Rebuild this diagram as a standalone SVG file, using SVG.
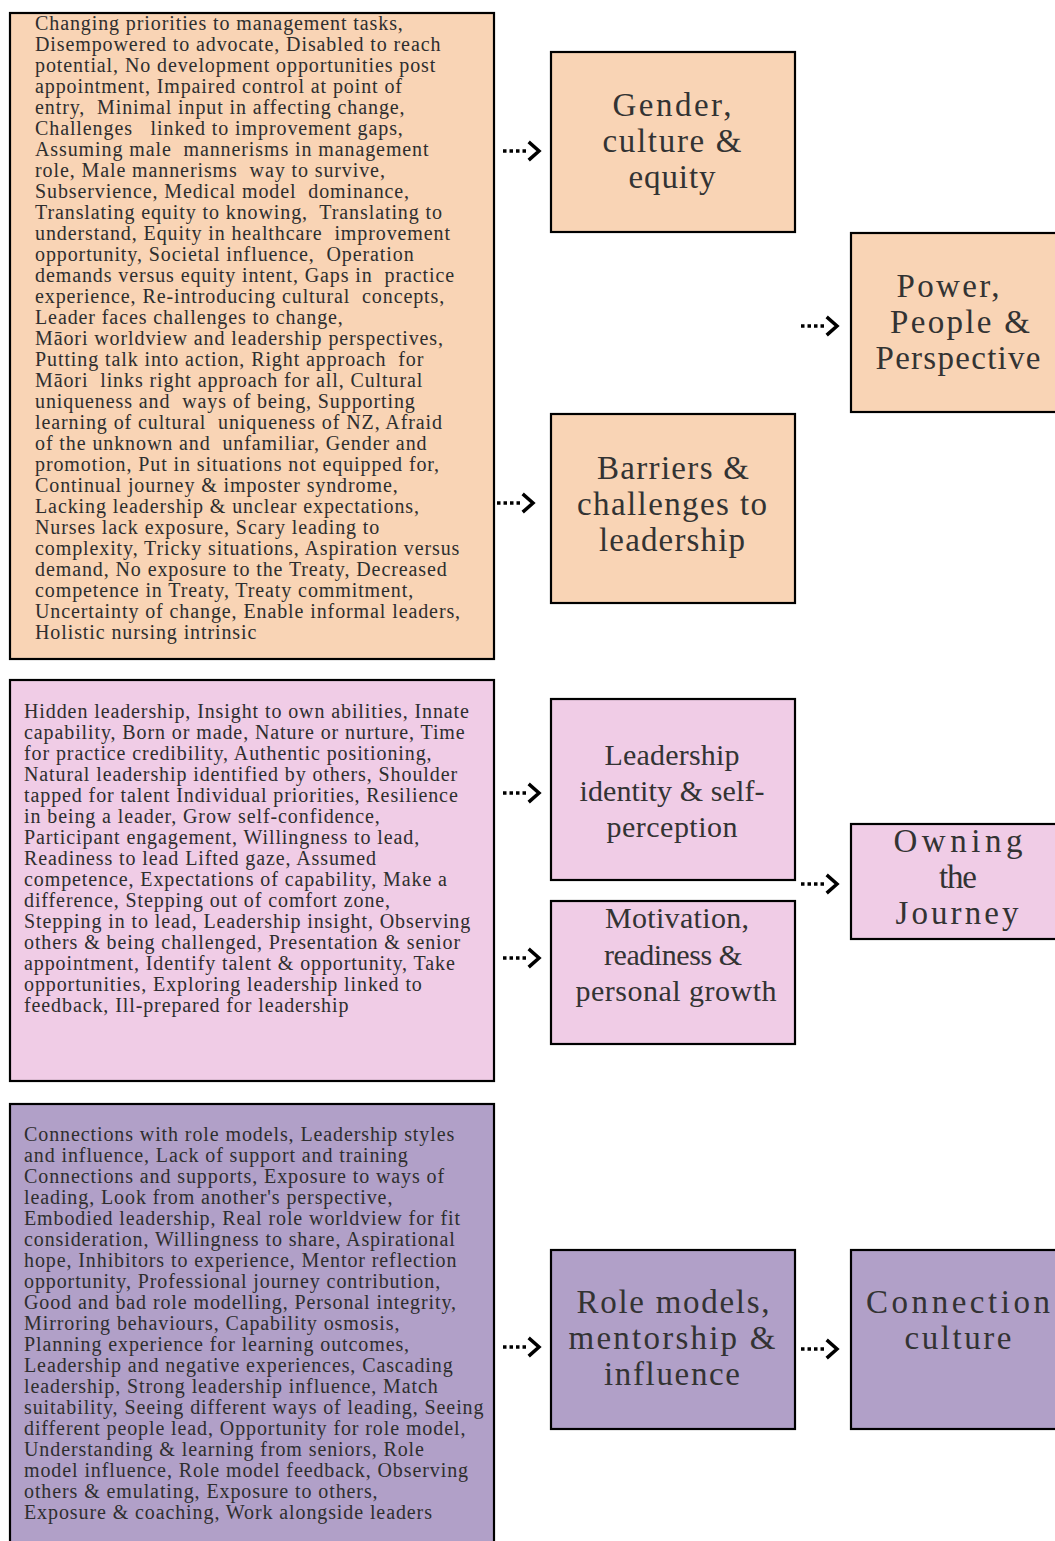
<svg xmlns="http://www.w3.org/2000/svg" width="1055" height="1541" viewBox="0 0 1055 1541">
<style>
.box{stroke:#000;stroke-width:2.2}
.peach{fill:#F9D4B5}
.pink{fill:#F0CCE6}
.purple{fill:#B1A0C8}
.small{font-family:"Liberation Serif",serif;font-size:20px;letter-spacing:0.9px;fill:#2e2e2e;white-space:pre}
.big{font-family:"Liberation Serif",serif;font-size:33px;fill:#333;text-anchor:middle}
.mid{font-size:30px}
.dots{stroke:#000;stroke-width:3.5;stroke-dasharray:3.5 3;fill:none}
.chev{stroke:#000;stroke-width:3.5;fill:none;stroke-linecap:square}
</style>
<rect width="1055" height="1541" fill="#fff"/>
<g id="n-barriers-list">
<rect class="box peach" x="10" y="13" width="484" height="646"/>
<text class="small">
<tspan x="35" y="30">Changing priorities to management tasks,</tspan>
<tspan x="35" y="51">Disempowered to advocate, Disabled to reach</tspan>
<tspan x="35" y="72">potential, No development opportunities post</tspan>
<tspan x="35" y="93">appointment, Impaired control at point of</tspan>
<tspan x="35" y="114">entry,  Minimal input in affecting change,</tspan>
<tspan x="35" y="135">Challenges   linked to improvement gaps,</tspan>
<tspan x="35" y="156">Assuming male  mannerisms in management</tspan>
<tspan x="35" y="177">role, Male mannerisms  way to survive,</tspan>
<tspan x="35" y="198">Subservience, Medical model  dominance,</tspan>
<tspan x="35" y="219">Translating equity to knowing,  Translating to</tspan>
<tspan x="35" y="240">understand, Equity in healthcare  improvement</tspan>
<tspan x="35" y="261">opportunity, Societal influence,  Operation</tspan>
<tspan x="35" y="282">demands versus equity intent, Gaps in  practice</tspan>
<tspan x="35" y="303">experience, Re-introducing cultural  concepts,</tspan>
<tspan x="35" y="324">Leader faces challenges to change,</tspan>
<tspan x="35" y="345">Māori worldview and leadership perspectives,</tspan>
<tspan x="35" y="366">Putting talk into action, Right approach  for</tspan>
<tspan x="35" y="387">Māori  links right approach for all, Cultural</tspan>
<tspan x="35" y="408">uniqueness and  ways of being, Supporting</tspan>
<tspan x="35" y="429">learning of cultural  uniqueness of NZ, Afraid</tspan>
<tspan x="35" y="450">of the unknown and  unfamiliar, Gender and</tspan>
<tspan x="35" y="471">promotion, Put in situations not equipped for,</tspan>
<tspan x="35" y="492">Continual journey &amp; imposter syndrome,</tspan>
<tspan x="35" y="513">Lacking leadership &amp; unclear expectations,</tspan>
<tspan x="35" y="534">Nurses lack exposure, Scary leading to</tspan>
<tspan x="35" y="555">complexity, Tricky situations, Aspiration versus</tspan>
<tspan x="35" y="576">demand, No exposure to the Treaty, Decreased</tspan>
<tspan x="35" y="597">competence in Treaty, Treaty commitment,</tspan>
<tspan x="35" y="618">Uncertainty of change, Enable informal leaders,</tspan>
<tspan x="35" y="639">Holistic nursing intrinsic</tspan>
</text>
</g>
<g id="n-gender">
<rect class="box peach" x="551" y="52" width="244" height="180"/>
<text class="big"><tspan x="672" y="116" textLength="119">Gender,</tspan><tspan x="672" y="152" textLength="139">culture &amp;</tspan><tspan x="672" y="188" textLength="87">equity</tspan></text>
</g>
<g id="n-barriers">
<rect class="box peach" x="551" y="414" width="244" height="189"/>
<text class="big"><tspan x="673" y="479" textLength="152">Barriers &amp;</tspan><tspan x="672" y="515" textLength="190">challenges to</tspan><tspan x="672" y="551" textLength="146">leadership</tspan></text>
</g>
<g id="n-power">
<rect class="box peach" x="851" y="233" width="212" height="179"/>
<text class="big"><tspan x="948" y="297" textLength="103">Power,</tspan><tspan x="960" y="333" textLength="140">People &amp;</tspan><tspan x="958" y="369" textLength="165">Perspective</tspan></text>
</g>
<g id="n-identity-list">
<rect class="box pink" x="10" y="680" width="484" height="401"/>
<text class="small">
<tspan x="24" y="718">Hidden leadership, Insight to own abilities, Innate</tspan>
<tspan x="24" y="739">capability, Born or made, Nature or nurture, Time</tspan>
<tspan x="24" y="760">for practice credibility, Authentic positioning,</tspan>
<tspan x="24" y="781">Natural leadership identified by others, Shoulder</tspan>
<tspan x="24" y="802">tapped for talent Individual priorities, Resilience</tspan>
<tspan x="24" y="823">in being a leader, Grow self-confidence,</tspan>
<tspan x="24" y="844">Participant engagement, Willingness to lead,</tspan>
<tspan x="24" y="865">Readiness to lead Lifted gaze, Assumed</tspan>
<tspan x="24" y="886">competence, Expectations of capability, Make a</tspan>
<tspan x="24" y="907">difference, Stepping out of comfort zone,</tspan>
<tspan x="24" y="928">Stepping in to lead, Leadership insight, Observing</tspan>
<tspan x="24" y="949">others &amp; being challenged, Presentation &amp; senior</tspan>
<tspan x="24" y="970">appointment, Identify talent &amp; opportunity, Take</tspan>
<tspan x="24" y="991">opportunities, Exploring leadership linked to</tspan>
<tspan x="24" y="1012">feedback, Ill-prepared for leadership</tspan>
</text>
</g>
<g id="n-identity">
<rect class="box pink" x="551" y="699" width="244" height="181"/>
<text class="big mid"><tspan x="672" y="765" textLength="135">Leadership</tspan><tspan x="672" y="801" textLength="185">identity &amp; self-</tspan><tspan x="672" y="837" textLength="131">perception</tspan></text>
</g>
<g id="n-motivation">
<rect class="box pink" x="551" y="901" width="244" height="143"/>
<text class="big mid"><tspan x="677" y="928" textLength="144">Motivation,</tspan><tspan x="673" y="965" textLength="138">readiness &amp;</tspan><tspan x="676" y="1001" textLength="201">personal growth</tspan></text>
</g>
<g id="n-owning">
<rect class="box pink" x="851" y="824" width="212" height="115"/>
<text class="big"><tspan x="958" y="852" textLength="129">Owning</tspan><tspan x="958" y="888" textLength="38">the</tspan><tspan x="957" y="924" textLength="123">Journey</tspan></text>
</g>
<g id="n-rolemodels-list">
<rect class="box purple" x="10" y="1104" width="484" height="450"/>
<text class="small">
<tspan x="24" y="1141">Connections with role models, Leadership styles</tspan>
<tspan x="24" y="1162">and influence, Lack of support and training</tspan>
<tspan x="24" y="1183">Connections and supports, Exposure to ways of</tspan>
<tspan x="24" y="1204">leading, Look from another's perspective,</tspan>
<tspan x="24" y="1225">Embodied leadership, Real role worldview for fit</tspan>
<tspan x="24" y="1246">consideration, Willingness to share, Aspirational</tspan>
<tspan x="24" y="1267">hope, Inhibitors to experience, Mentor reflection</tspan>
<tspan x="24" y="1288">opportunity, Professional journey contribution,</tspan>
<tspan x="24" y="1309">Good and bad role modelling, Personal integrity,</tspan>
<tspan x="24" y="1330">Mirroring behaviours, Capability osmosis,</tspan>
<tspan x="24" y="1351">Planning experience for learning outcomes,</tspan>
<tspan x="24" y="1372">Leadership and negative experiences, Cascading</tspan>
<tspan x="24" y="1393">leadership, Strong leadership influence, Match</tspan>
<tspan x="24" y="1414">suitability, Seeing different ways of leading, Seeing</tspan>
<tspan x="24" y="1435">different people lead, Opportunity for role model,</tspan>
<tspan x="24" y="1456">Understanding &amp; learning from seniors, Role</tspan>
<tspan x="24" y="1477">model influence, Role model feedback, Observing</tspan>
<tspan x="24" y="1498">others &amp; emulating, Exposure to others,</tspan>
<tspan x="24" y="1519">Exposure &amp; coaching, Work alongside leaders</tspan>
</text>
</g>
<g id="n-rolemodels">
<rect class="box purple" x="551" y="1250" width="244" height="179"/>
<text class="big"><tspan x="673" y="1313" textLength="193">Role models,</tspan><tspan x="672" y="1349" textLength="207">mentorship &amp;</tspan><tspan x="672" y="1385" textLength="136">influence</tspan></text>
</g>
<g id="n-connection">
<rect class="box purple" x="851" y="1250" width="212" height="179"/>
<text class="big"><tspan x="958" y="1313" textLength="184">Connection</tspan><tspan x="958" y="1349" textLength="107">culture</tspan></text>
</g>
<g id="connectors">
<path class="dots" d="M503 151H528"/><path class="chev" d="M530 143L539 151L530 159"/>
<path class="dots" d="M801 326H826"/><path class="chev" d="M828 318L837 326L828 334"/>
<path class="dots" d="M497 503H522"/><path class="chev" d="M524 495L533 503L524 511"/>
<path class="dots" d="M503 793H528"/><path class="chev" d="M530 785L539 793L530 801"/>
<path class="dots" d="M503 958H528"/><path class="chev" d="M530 950L539 958L530 966"/>
<path class="dots" d="M801 884H826"/><path class="chev" d="M828 876L837 884L828 892"/>
<path class="dots" d="M503 1347H528"/><path class="chev" d="M530 1339L539 1347L530 1355"/>
<path class="dots" d="M801 1349H826"/><path class="chev" d="M828 1341L837 1349L828 1357"/>
</g>
</svg>
